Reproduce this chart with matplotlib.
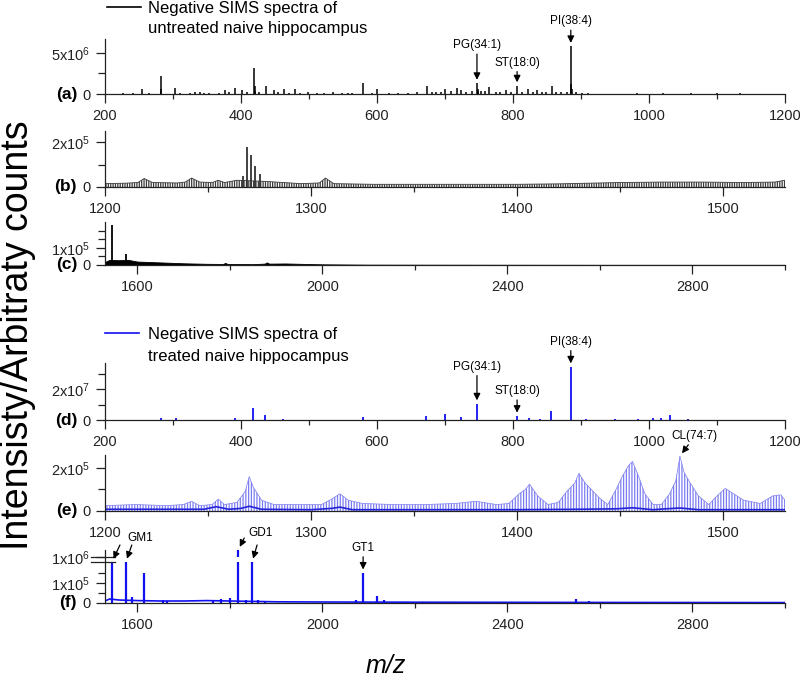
import numpy as np
import matplotlib
matplotlib.use("Agg")
import matplotlib.pyplot as plt
from matplotlib.lines import Line2D
from matplotlib.ticker import MultipleLocator, FixedLocator, FixedFormatter

plt.rcParams['font.family'] = ['Liberation Sans', 'DejaVu Sans']
plt.rcParams['mathtext.fontset'] = 'custom'
plt.rcParams['mathtext.rm'] = 'Liberation Sans'
plt.rcParams['mathtext.it'] = 'Liberation Sans:italic'
plt.rcParams['mathtext.bf'] = 'Liberation Sans:bold'
plt.rcParams['hatch.linewidth'] = 0.9

# ---------------- data ----------------
# (a) untreated, m/z 200-1200, stick peaks (x1e6 counts)
a_mz = [227, 241, 255, 265, 282, 283, 303, 311, 325, 332, 339, 346, 353, 367, 376, 383, 391,
        402, 409, 419, 420, 421, 426, 437, 448, 455, 463, 471, 480, 487, 499, 512, 522, 536, 548,
        557, 563, 580, 592, 600, 617, 631, 645, 659, 673, 681, 687, 694, 700, 709, 717,
        724, 731, 739, 747, 748, 749, 753, 759, 765, 775, 781, 790, 797, 806, 813, 822, 829, 835,
        843, 849, 857, 863, 871, 879, 885, 886, 887, 893, 901, 911, 982, 1020, 1062, 1100, 1134, 1160]
a_int = [0.1, 0.12, 0.6, 0.1, 2.2, 0.6, 0.7, 0.1, 0.15, 0.3, 0.25, 0.1, 0.12, 0.15, 0.45, 0.2, 0.7,
         0.5, 0.2, 3.2, 1.0, 0.4, 0.25, 1.0, 0.5, 0.2, 0.6, 0.15, 0.6, 0.15, 0.3, 0.12, 0.15, 0.2, 0.12,
         0.15, 0.1, 1.35, 0.15, 0.6, 0.1, 0.12, 0.15, 0.2, 0.95, 0.2, 0.2, 0.25, 0.6, 0.35, 0.7,
         0.5, 0.3, 0.4, 1.3, 0.6, 0.35, 0.4, 0.35, 0.9, 0.3, 0.25, 0.45, 0.3, 1.0, 0.25, 0.6, 0.2, 0.5,
         0.2, 0.25, 1.0, 0.3, 0.2, 0.3, 5.8, 1.2, 0.6, 0.25, 0.15, 0.1, 0.1, 0.08, 0.08, 0.08, 0.1, 0.06]

# (b) untreated, m/z 1200-1530: background comb envelope and main peaks (x1e5)
b_env_mz = [1200, 1210, 1216, 1219, 1223, 1235, 1239, 1242, 1246, 1252, 1255, 1258, 1264, 1278,
            1295, 1304, 1307, 1311, 1330, 1360, 1400, 1420, 1450, 1470, 1490, 1510, 1525, 1530]
b_env = [0.15, 0.17, 0.2, 0.38, 0.2, 0.18, 0.22, 0.4, 0.22, 0.2, 0.3, 0.2, 0.3, 0.25,
         0.15, 0.18, 0.4, 0.15, 0.12, 0.12, 0.12, 0.14, 0.2, 0.22, 0.22, 0.2, 0.22, 0.3]
b_pk_mz = [1267, 1269, 1271, 1273, 1275]
b_pk = [0.5, 1.8, 1.45, 0.95, 0.6]

# (c) untreated, m/z 1530-3000 (x1e5)
c_env_mz = [1530, 1540, 1560, 1580, 1600, 1650, 1700, 1750, 1785, 1790, 1795, 1850, 1875,
            1880, 1885, 1920, 1950, 2000, 2100, 2300, 2600, 3000]
c_env = [0.18, 0.3, 0.28, 0.3, 0.2, 0.15, 0.1, 0.07, 0.06, 0.12, 0.06, 0.05, 0.08,
         0.15, 0.08, 0.09, 0.07, 0.04, 0.02, 0.015, 0.01, 0.01]
c_pk_mz = [1546, 1575]
c_pk = [2.3, 0.65]

# (d) treated, m/z 200-1200 (x1e7)
d_mz = [282, 304, 391, 418, 435, 462, 580, 672, 700, 723, 747, 806, 823, 839, 856, 885,
        908, 950, 984, 1006, 1017, 1031, 1058]
d_int = [0.15, 0.1, 0.1, 0.8, 0.35, 0.05, 0.2, 0.27, 0.38, 0.22, 1.05, 0.25, 0.1, 0.08, 0.6, 3.45,
         0.05, 0.05, 0.05, 0.15, 0.1, 0.3, 0.08]

# (e) treated, m/z 1200-1530 (x1e5)
e_env_mz = [1200, 1215, 1230, 1238, 1242, 1246, 1252, 1255, 1258, 1264, 1268, 1270, 1272, 1276,
            1282, 1295, 1305, 1310, 1314, 1318, 1325, 1340, 1355, 1370, 1380, 1390, 1396, 1401,
            1404, 1406, 1410, 1415, 1420, 1424, 1428, 1430, 1433, 1436, 1440, 1444, 1448, 1451,
            1454, 1456, 1459, 1462, 1466, 1470, 1474, 1477, 1479, 1481, 1484, 1488, 1493, 1497,
            1501, 1505, 1510, 1518, 1524, 1528, 1530]
e_env = [0.25, 0.3, 0.25, 0.3, 0.45, 0.25, 0.3, 0.55, 0.3, 0.4, 0.9, 1.6, 1.1, 0.5,
         0.3, 0.3, 0.3, 0.55, 0.8, 0.5, 0.35, 0.3, 0.3, 0.35, 0.45, 0.3, 0.35, 0.8,
         1.0, 1.25, 0.7, 0.3, 0.4, 0.9, 1.3, 1.75, 1.3, 1.0, 0.6, 0.3, 1.0, 1.6,
         2.1, 2.3, 1.6, 0.8, 0.3, 0.3, 0.8, 1.4, 2.55, 1.8, 1.3, 0.7, 0.3, 0.7,
         1.05, 0.8, 0.5, 0.35, 0.7, 0.75, 0.5]
e_base_mz = [1200, 1248, 1254, 1260, 1266, 1270, 1276, 1300, 1310, 1314, 1320, 1400, 1430, 1448,
             1456, 1466, 1472, 1479, 1488, 1530]
e_base = [0.08, 0.08, 0.2, 0.08, 0.12, 0.22, 0.08, 0.06, 0.12, 0.18, 0.06, 0.06, 0.08, 0.1,
          0.15, 0.06, 0.1, 0.14, 0.06, 0.06]

# (f) treated, m/z 1530-3000 (counts)
f_base_mz = [1530, 1540, 1560, 1600, 1650, 1700, 1750, 1800, 1850, 1900, 2000, 2200, 2500, 3000]
f_base = [0.1e5, 0.2e5, 0.15e5, 0.12e5, 0.1e5, 0.1e5, 0.12e5, 0.1e5, 0.08e5, 0.06e5, 0.05e5,
          0.04e5, 0.03e5, 0.02e5]
f_pk_mz = [1545, 1575, 1588, 1614, 1655, 1665, 1763, 1780, 1800, 1818, 1835, 1848, 1861, 1875,
           2072, 2088, 2118, 2133, 2274, 2362, 2548, 2577, 2686, 2821, 2959]
f_pk = [2.05e5, 2.05e5, 0.3e5, 1.5e5, 0.15e5, 0.12e5, 0.15e5, 0.2e5, 0.25e5, 1.7e6, 0.15e5, 2.05e5,
        0.15e5, 0.12e5, 0.15e5, 1.5e5, 0.35e5, 0.15e5, 0.07e5, 0.07e5, 0.22e5, 0.1e5, 0.05e5,
        0.06e5, 0.05e5]

BLUE = '#1010f0'
LIGHTBLUE = '#7c7cf2'
W, H = 800, 682

fig = plt.figure(figsize=(8, 6.82), dpi=100)


def box(top, bottom):
    return [105 / W, 1 - bottom / H, 680 / W, (bottom - top) / H]


def setup(ax, xlim, xmaj, xmin, ylim, yticks, ylabels, yminor, tag):
    ax.set_xlim(*xlim)
    ax.set_ylim(*ylim)
    for s in ('top', 'right'):
        ax.spines[s].set_visible(False)
    for s in ('left', 'bottom'):
        ax.spines[s].set_linewidth(0.9)
        ax.spines[s].set_color('#222222')
    ax.xaxis.set_major_locator(MultipleLocator(xmaj))
    ax.xaxis.set_minor_locator(MultipleLocator(xmin))
    ax.yaxis.set_major_locator(FixedLocator(yticks))
    ax.yaxis.set_major_formatter(FixedFormatter(ylabels))
    ax.yaxis.set_minor_locator(FixedLocator(yminor))
    ax.tick_params(which='major', direction='out', length=6.5, width=0.9,
                   labelsize=10.5, pad=4, colors='#222222')
    ax.tick_params(which='minor', direction='out', length=3.5, width=0.9, colors='#222222')
    ax.tick_params(axis='y', which='minor', length=5)
    ax.text(-0.041, 0, tag, transform=ax.get_yaxis_transform(), ha='right',
            va='center', fontsize=12.5, fontweight='bold')


def tag_peak(ax, label, mz, h, dx, dy, fs=8.5):
    ax.annotate(label, xy=(mz, h), xytext=(dx, dy), textcoords='offset pixels',
                ha='center', va='center', fontsize=fs,
                arrowprops=dict(arrowstyle='-|>', color='black', lw=0.9,
                                shrinkA=0, shrinkB=2.5, mutation_scale=10))


def arrow(ax, mz, h, dx, dy):
    ax.annotate('', xy=(mz, h), xytext=(dx, dy), textcoords='offset pixels',
                arrowprops=dict(arrowstyle='-|>', color='black', lw=0.9,
                                shrinkA=0, shrinkB=2.5, mutation_scale=10))


# ---- (a) ----
ax = fig.add_axes(box(39, 94))
ax.vlines(a_mz, 0, np.array(a_int) * 1e6, color='black', lw=1.1)
setup(ax, (200, 1200), 200, 100, (0, 6.7e6), [0, 5e6], ['0', r'5x10$^6$'], [2.5e6], '(a)')
i = a_mz.index
tag_peak(ax, 'PI(38:4)', 885, a_int[i(885)] * 1e6, 0, 25)
tag_peak(ax, 'PG(34:1)', 747, a_int[i(747)] * 1e6, 0, 38)
tag_peak(ax, 'ST(18:0)', 806, a_int[i(806)] * 1e6, 0, 23)

# ---- (b) ----
ax = fig.add_axes(box(131, 187))
ax.fill_between(b_env_mz, 0, np.array(b_env) * 1e5, facecolor='none', edgecolor='#3a3a3a',
                hatch='|||||||', linewidth=0)
ax.plot(b_env_mz, np.array(b_env) * 1e5, color='#3a3a3a', lw=0.6)
ax.vlines(b_pk_mz, 0, np.array(b_pk) * 1e5, color='#333333', lw=1.3)
setup(ax, (1200, 1530), 100, 50, (0, 2.5e5), [0, 2e5], ['0', r'2x10$^5$'], [1e5], '(b)')

# ---- (c) ----
ax = fig.add_axes(box(222, 265))
ax.fill_between(c_env_mz, 0, np.array(c_env) * 1e5, color='black', linewidth=0.6)
ax.vlines(c_pk_mz, 0, np.array(c_pk) * 1e5, color='black', lw=1.3)
setup(ax, (1530, 3000), 400, 200, (0, 2.5e5), [0, 1e5], ['0', r'1x10$^5$'], [5e4, 1.5e5, 2e5], '(c)')

# ---- (d) ----
ax = fig.add_axes(box(363, 420))
ax.vlines(d_mz, 0, np.array(d_int) * 1e7, color=BLUE, lw=1.3)
setup(ax, (200, 1200), 200, 100, (0, 3.7e7), [0, 2e7], ['0', r'2x10$^7$'], [1e7, 3e7], '(d)')
i = d_mz.index
tag_peak(ax, 'PI(38:4)', 885, d_int[i(885)] * 1e7, 0, 25)
tag_peak(ax, 'PG(34:1)', 747, d_int[i(747)] * 1e7, 0, 37)
tag_peak(ax, 'ST(18:0)', 806, d_int[i(806)] * 1e7, 0, 25)

# ---- (e) ----
ax = fig.add_axes(box(455, 511))
ax.fill_between(e_env_mz, 0, np.array(e_env) * 1e5, facecolor='none', edgecolor=LIGHTBLUE,
                hatch='||||||', linewidth=0)
ax.plot(e_env_mz, np.array(e_env) * 1e5, color=LIGHTBLUE, lw=0.5)
ax.plot(e_base_mz, np.array(e_base) * 1e5, color='#2222d8', lw=1.2)
setup(ax, (1200, 1530), 100, 50, (0, 2.6e5), [0, 2e5], ['0', r'2x10$^5$'], [1e5], '(e)')
tag_peak(ax, 'CL(74:7)', 1479, e_env[e_env_mz.index(1479)] * 1e5, 15, 20)

# ---- (f) broken y axis ----
LO, HI = 2.05e5, 1e6


def f_fwd(v):
    v = np.asarray(v, dtype=float)
    return np.where(v <= LO, v / LO * 41.0,
                    np.where(v <= HI, 41.0 + (v - LO) / (HI - LO) * 5.0, 46.0 + (v - HI) / 1e5))


def f_inv(u):
    u = np.asarray(u, dtype=float)
    return np.where(u <= 41.0, u / 41.0 * LO,
                    np.where(u <= 46.0, LO + (u - 41.0) / 5.0 * (HI - LO), HI + (u - 46.0) * 1e5))


ax = fig.add_axes(box(550, 603))
ax.set_yscale('function', functions=(f_fwd, f_inv))
ax.plot(f_base_mz, f_base, color=BLUE, lw=1.2)
ax.vlines(f_pk_mz, 0, f_pk, color=BLUE, lw=1.6)
setup(ax, (1530, 3000), 400, 200, (0, 1.7e6), [0, 1e5, 1e6],
      ['0', r'1x10$^5$', r'1x10$^6$'], [5e4, 1.5e5], '(f)')
ax.axhspan(2.15e5, 9.3e5, color='white', zorder=2.4, lw=0)
for v in (2.1e5, 1e6):
    ax.plot([-0.02, 0.014], [v, v], transform=ax.get_yaxis_transform(), color='#222222',
            lw=0.9, clip_on=False, zorder=3)
i = f_pk_mz.index
ax.annotate('GM1', xy=(1575, f_pk[i(1575)]), xytext=(14, 24), textcoords='offset pixels',
            ha='center', va='center', fontsize=8.5)
arrow(ax, 1545, f_pk[i(1545)], 8, 17)
arrow(ax, 1575, f_pk[i(1575)], 6, 17)
ax.annotate('GD1', xy=(1848, f_pk[i(1848)]), xytext=(8, 29), textcoords='offset pixels',
            ha='center', va='center', fontsize=8.5)
arrow(ax, 1818, f_pk[i(1818)], 6, 12)
arrow(ax, 1848, f_pk[i(1848)], 5, 17)
tag_peak(ax, 'GT1', 2088, f_pk[i(2088)], 0, 25)

# ---- legends ----
fig.add_artist(Line2D([107 / W, 141 / W], [1 - 7 / H] * 2, color='black', lw=1.2))
fig.text(148 / W, 1 - 8 / H, 'Negative SIMS spectra of', ha='left', va='center', fontsize=12)
fig.text(148 / W, 1 - 29 / H, 'untreated naive hippocampus', ha='left', va='center', fontsize=12)
fig.add_artist(Line2D([105 / W, 139 / W], [1 - 333 / H] * 2, color=BLUE, lw=1.2))
fig.text(148 / W, 1 - 334 / H, 'Negative SIMS spectra of', ha='left', va='center', fontsize=12)
fig.text(148 / W, 1 - 357 / H, 'treated naive hippocampus', ha='left', va='center', fontsize=12)

# ---- axis titles ----
fig.text(18 / W, 1 - 335 / H, 'Intensisty/Arbitraty counts', rotation=90, ha='center',
         va='center', fontsize=27)
fig.text(386 / W, 1 - 666 / H, 'm/z', style='italic', ha='center', va='center', fontsize=18)

fig.savefig('out.png', dpi=100)
